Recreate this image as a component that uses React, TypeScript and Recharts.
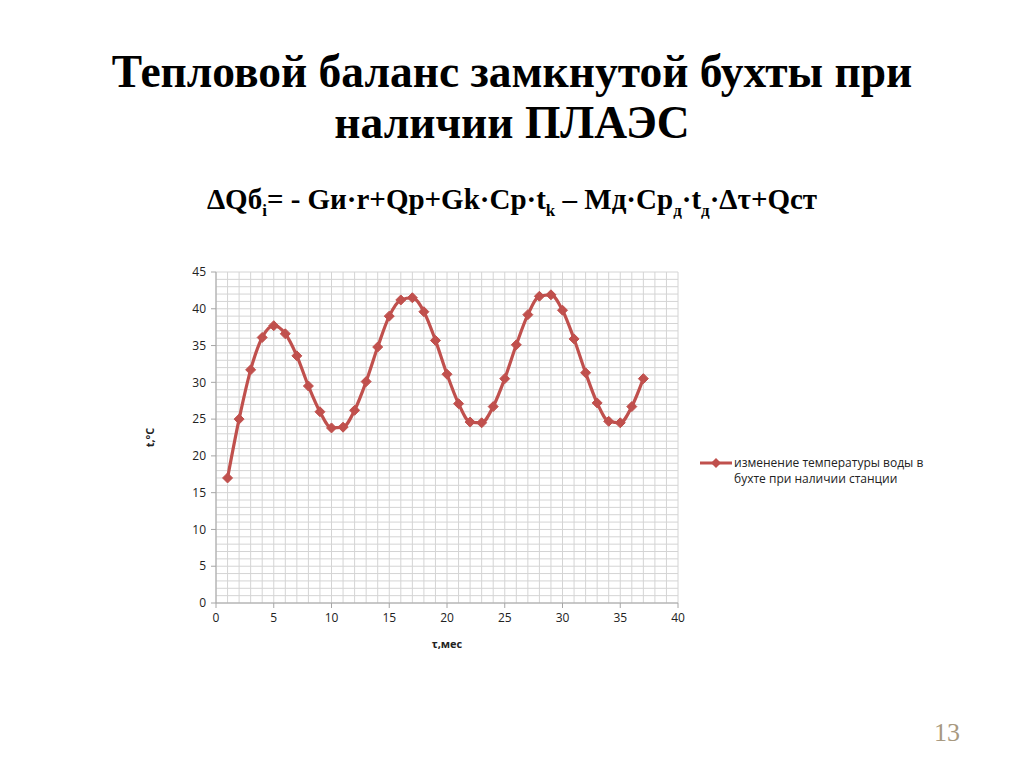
import React from 'react';
import { LineChart, Line, XAxis, YAxis, CartesianGrid, Legend } from 'recharts';

const months = [1, 2, 3, 4, 5, 6, 7, 8, 9, 10, 11, 12, 13, 14, 15, 16, 17, 18, 19, 20, 21, 22, 23, 24, 25, 26, 27, 28, 29, 30, 31, 32, 33, 34, 35, 36, 37];
const temps = [17.0, 25.0, 31.7, 36.1, 37.7, 36.6, 33.6, 29.5, 26.0, 23.8, 23.9, 26.2, 30.1, 34.8, 39.0, 41.2, 41.5, 39.6, 35.7, 31.1, 27.1, 24.6, 24.5, 26.7, 30.5, 35.1, 39.2, 41.7, 41.9, 39.8, 35.9, 31.3, 27.2, 24.7, 24.5, 26.7, 30.5];
const xTicks = [0, 5, 10, 15, 20, 25, 30, 35, 40];
const yTicks = [0, 5, 10, 15, 20, 25, 30, 35, 40, 45];
const xGridValues = Array.from({ length: 41 }, (_, i) => i);
const yGridValues = Array.from({ length: 46 }, (_, i) => i);
const seriesName = 'изменение температуры воды в бухте при наличии станции';
const legendLines = ['изменение температуры воды в', 'бухте при наличии станции'];

const data = months.map((m, i) => ({ m, t: temps[i] }));

const RED = '#c0504d';
const AXIS = '#a6a6a6';
const GRID = '#d4d4d4';

const Diamond = (props: any) => {
  const { cx, cy } = props;
  if (cx == null || cy == null) return null;
  const r = 5;
  return (
    <polygon
      points={`${cx},${cy - r} ${cx + r},${cy} ${cx},${cy + r} ${cx - r},${cy}`}
      fill={RED}
      stroke={RED}
      strokeWidth={1}
    />
  );
};

const renderLegend = () => (
  <div style={{ display: 'flex', alignItems: 'flex-start', fontFamily: 'Open Sans', fontSize: 12, color: '#222' }}>
    <svg width={34} height={16} style={{ flex: 'none' }}>
      <line x1={1} y1={8} x2={33} y2={8} stroke={RED} strokeWidth={3} />
      <polygon points="17,3 22,8 17,13 12,8" fill={RED} />
    </svg>
    <div style={{ lineHeight: '16px', marginLeft: 1 }}>
      {legendLines.map((l) => (
        <div key={l}>{l}</div>
      ))}
    </div>
  </div>
);

const vGen = ({ xAxis, offset }: any) =>
  xGridValues.map((v) =>
    xAxis && typeof xAxis.scale === 'function' ? xAxis.scale(v) : offset.left + (v / 40) * offset.width
  );
const hGen = ({ yAxis, offset }: any) =>
  yGridValues.map((v) =>
    yAxis && typeof yAxis.scale === 'function' ? yAxis.scale(v) : offset.top + offset.height - (v / 45) * offset.height
  );

export default function App() {
  return (
    <div style={{ position: 'absolute', left: 0, top: 0, width: 1024, height: 767, background: '#fff', overflow: 'hidden' }}>
      <div
        style={{
          position: 'absolute',
          left: 0,
          top: 46,
          width: 1024,
          textAlign: 'center',
          fontFamily: 'Liberation Serif',
          fontWeight: 'bold',
          fontSize: 45.5,
          lineHeight: '51px',
          color: '#000',
        }}
      >
        <div>Тепловой баланс замкнутой бухты при</div>
        <div>наличии ПЛАЭС</div>
      </div>
      <div
        style={{
          position: 'absolute',
          left: 0,
          top: 182,
          width: 1024,
          textAlign: 'center',
          fontFamily: 'Liberation Serif',
          fontWeight: 'bold',
          fontSize: 29,
          lineHeight: '34px',
          color: '#000',
        }}
      >
        ΔQб<sub style={{ fontSize: 17 }}>i</sub>= - Gи·r+Qp+Gk·Cp·t<sub style={{ fontSize: 17 }}>k</sub> – Mд·Cp
        <sub style={{ fontSize: 17 }}>д</sub>·t<sub style={{ fontSize: 17 }}>д</sub>·Δτ+Qcт
      </div>
      <div
        style={{
          position: 'absolute',
          left: 934,
          top: 718,
          fontFamily: 'Liberation Serif',
          fontSize: 26,
          color: '#a8997f',
        }}
      >
        13
      </div>
      <div style={{ position: 'absolute', left: 0, top: 0 }}>
        <LineChart width={1024} height={767} data={data} margin={{ top: 272, right: 346, bottom: 114, left: 146 }}>
          <CartesianGrid
            stroke={GRID}
            strokeWidth={1}
            verticalCoordinatesGenerator={vGen}
            horizontalCoordinatesGenerator={hGen}
          />
          <XAxis
            dataKey="m"
            type="number"
            domain={[0, 40]}
            ticks={xTicks}
            height={50}
            axisLine={{ stroke: AXIS }}
            tickLine={{ stroke: AXIS }}
            tickSize={5}
            tickMargin={5}
            tick={{ fontSize: 12, fill: '#222', fontFamily: 'Open Sans' }}
            label={{
              value: 'τ,мес',
              position: 'insideBottom',
              offset: 5,
              style: { fontSize: 11, fontWeight: 'bold', fill: '#222', fontFamily: 'Open Sans' },
            }}
          />
          <YAxis
            type="number"
            domain={[0, 45]}
            ticks={yTicks}
            width={70}
            axisLine={{ stroke: AXIS }}
            tickLine={{ stroke: AXIS }}
            tickSize={5}
            tickMargin={5}
            tick={{ fontSize: 12, fill: '#222', fontFamily: 'Open Sans' }}
            label={{
              value: 't,°C',
              angle: -90,
              position: 'insideLeft',
              offset: 4,
              style: { fontSize: 11, fontWeight: 'bold', fill: '#222', fontFamily: 'Open Sans', textAnchor: 'middle' },
            }}
          />
          <Legend
            layout="vertical"
            align="center"
            verticalAlign="middle"
            content={renderLegend}
            wrapperStyle={{ position: 'absolute', left: 699, top: 455, width: 260, height: 36 }}
          />
          <Line
            type="monotone"
            dataKey="t"
            name={seriesName}
            stroke={RED}
            strokeWidth={3.2}
            dot={<Diamond />}
            activeDot={false}
            isAnimationActive={false}
          />
        </LineChart>
      </div>
    </div>
  );
}
